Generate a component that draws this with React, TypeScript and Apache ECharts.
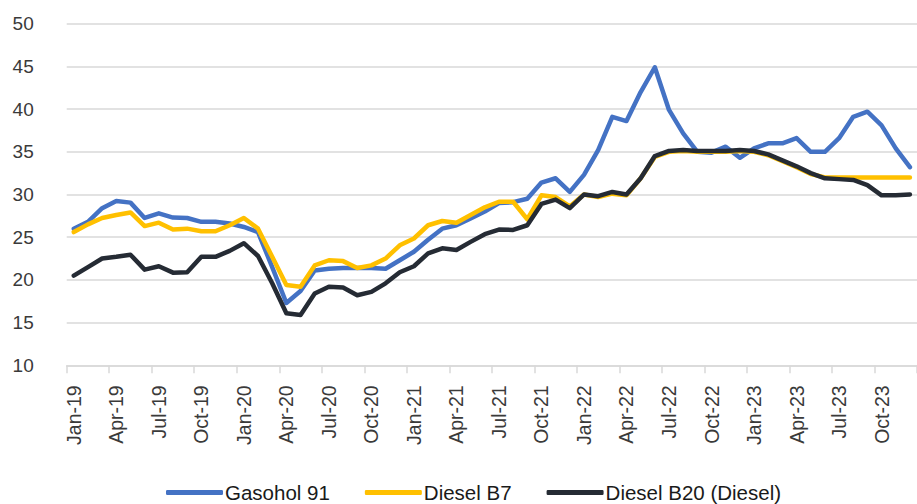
import React, { useEffect, useRef } from "react";
import * as echarts from "echarts";

const months = ["Jan", "Feb", "Mar", "Apr", "May", "Jun", "Jul", "Aug", "Sep", "Oct", "Nov", "Dec"];
const years = ["19", "20", "21", "22", "23"];
const categories: string[] = years.flatMap((y) => months.map((m) => `${m}-${y}`));

const gasohol91 = [
  26.0, 26.8, 28.4, 29.25, 29.05, 27.25, 27.8, 27.3, 27.25, 26.8, 26.8, 26.6,
  26.2, 25.6, 21.5, 17.3, 18.7, 21.1, 21.3, 21.4, 21.4, 21.4, 21.3, 22.3,
  23.3, 24.7, 26.0, 26.4, 27.2, 28.0, 29.0, 29.1, 29.5, 31.4, 31.9, 30.3,
  32.3, 35.2, 39.1, 38.6, 42.0, 44.9, 39.9, 37.15, 35.0, 34.9, 35.6, 34.3,
  35.4, 36.0, 36.0, 36.6, 35.0, 35.0, 36.6, 39.1, 39.7, 38.1, 35.4, 33.2,
];

const dieselB7 = [
  25.6, 26.5, 27.25, 27.6, 27.9, 26.3, 26.7, 25.9, 26.0, 25.7, 25.7, 26.4,
  27.25, 26.0, 22.7, 19.4, 19.2, 21.7, 22.3, 22.2, 21.4, 21.7, 22.5, 24.05,
  24.85, 26.4, 26.9, 26.7, 27.6, 28.5, 29.15, 29.15, 27.1, 29.9, 29.7, 28.6,
  30.0, 29.7, 30.1, 29.9, 31.9, 34.4, 35.0, 35.1, 35.0, 35.0, 35.0, 35.1,
  35.0, 34.6, 33.9, 33.2, 32.4, 32.0, 32.0, 32.0, 32.0, 32.0, 32.0, 32.0,
];

const dieselB20 = [
  20.5, 21.5, 22.5, 22.7, 22.95, 21.2, 21.6, 20.85, 20.9, 22.7, 22.7, 23.4,
  24.3, 22.8, 19.6, 16.1, 15.9, 18.4, 19.2, 19.1, 18.2, 18.6, 19.6, 20.9,
  21.6, 23.1, 23.7, 23.5, 24.45, 25.35, 25.9, 25.85, 26.4, 28.9, 29.4, 28.4,
  30.0, 29.8, 30.3, 30.0, 31.9, 34.5, 35.1, 35.2, 35.1, 35.1, 35.1, 35.2,
  35.1, 34.7, 34.0, 33.3, 32.5, 31.9, 31.8, 31.7, 31.1, 29.9, 29.9, 30.0,
];

const seriesNames = ["Gasohol 91", "Diesel B7", "Diesel B20 (Diesel)"];
const seriesColors = ["#4472C4", "#FFC000", "#252B34"];

const FONT = "'Liberation Sans', Arial, Helvetica, sans-serif";

export default function App() {
  const ref = useRef<HTMLDivElement>(null);

  useEffect(() => {
    if (!ref.current) return;
    const chart = echarts.init(ref.current, undefined, { renderer: "svg" });
    const datasets = [gasohol91, dieselB7, dieselB20];
    chart.setOption({
      animation: false,
      backgroundColor: "#ffffff",
      textStyle: { fontFamily: FONT },
      grid: { left: 66.7, right: -8.3, top: 23.7, bottom: 138.7, containLabel: false },
      legend: {
        left: 166,
        top: 482,
        padding: 0,
        itemWidth: 57,
        itemHeight: 5,
        itemGap: 35,
        icon: "roundRect",
        textStyle: {
          fontFamily: FONT,
          fontSize: 20.5,
          lineHeight: 20,
          color: "#1a1a1a",
          padding: [0, 0, 0, -3],
        },
        data: seriesNames,
      },
      xAxis: {
        type: "category",
        data: categories,
        boundaryGap: true,
        axisLine: { show: true, lineStyle: { color: "#d9d9d9", width: 1.5 } },
        axisTick: { show: true, interval: 2, length: 8, lineStyle: { color: "#d9d9d9", width: 1.5 } },
        axisLabel: {
          interval: 2,
          rotate: 90,
          margin: 20,
          fontFamily: FONT,
          fontSize: 19.5,
          color: "#3a3a3a",
        },
        splitLine: { show: false },
      },
      yAxis: {
        type: "value",
        min: 10,
        max: 50,
        interval: 5,
        axisLine: { show: false },
        axisTick: { show: false },
        axisLabel: { margin: 33, fontFamily: FONT, fontSize: 19, color: "#3a3a3a" },
        splitLine: { show: true, lineStyle: { color: "#d9d9d9", width: 1.5 } },
      },
      series: datasets.map((d, i) => ({
        name: seriesNames[i],
        type: "line",
        data: d,
        symbol: "none",
        smooth: false,
        color: seriesColors[i],
        lineStyle: { width: 4.5, color: seriesColors[i], join: "round", cap: "round" },
        z: 2 + i,
      })),
    });
    return () => chart.dispose();
  }, []);

  return (
    <div
      ref={ref}
      style={{ position: "fixed", left: 0, top: 0, width: 917, height: 504, background: "#fff" }}
    />
  );
}
